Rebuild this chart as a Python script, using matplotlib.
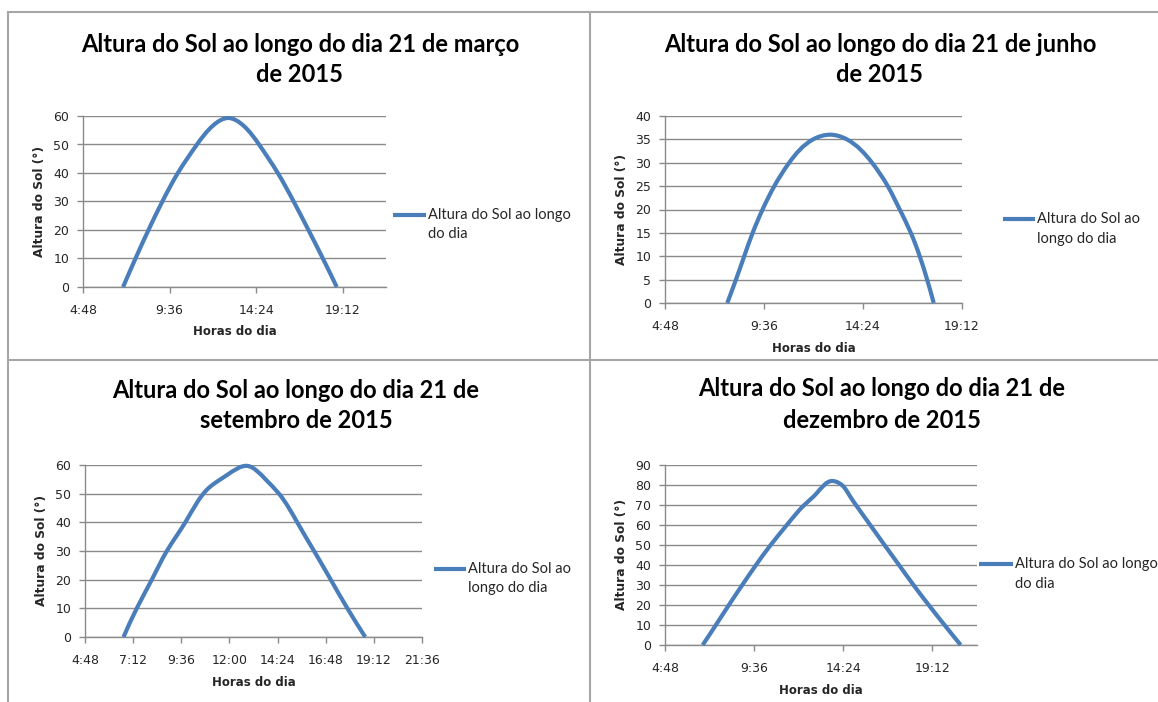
import matplotlib
matplotlib.use("Agg")
import matplotlib.pyplot as plt
from matplotlib.path import Path
from matplotlib.patches import PathPatch
from matplotlib.lines import Line2D
from matplotlib.ticker import FuncFormatter, FixedLocator
import numpy as np

# ---- data: sun altitude (degrees) against clock time (decimal hours) ----
horas_marco = [7.02, 7.71, 8.43, 9.20, 10.06, 11.12, 12.00, 12.85, 13.70, 14.56, 15.60, 16.48, 17.30, 18.10, 18.87]
altura_marco = [0, 10, 20, 30, 40, 50, 56.6, 59.3, 56.6, 50, 40, 30, 20, 10, 0]

horas_junho = [7.82, 8.24, 8.64, 9.05, 9.53, 10.10, 10.82, 11.98, 12.82, 13.62, 14.84, 15.60, 16.18, 16.72, 17.15, 17.51, 17.83]
altura_junho = [0, 5, 10, 15, 20, 25, 30, 35, 36, 35, 30, 25, 20, 15, 10, 5, 0]

horas_setembro = [6.72, 7.38, 8.13, 8.88, 9.80, 10.97, 11.88, 12.88, 13.80, 14.47, 15.38, 16.22, 17.05, 17.88, 18.77]
altura_setembro = [0, 10, 20, 30, 40, 52, 56.5, 59.7, 55, 50, 40, 30, 20, 10, 0]

horas_dezembro = [6.83, 7.54, 8.24, 8.96, 9.70, 10.49, 11.36, 12.30, 12.98, 13.78, 14.32, 14.72, 15.08, 15.85, 16.62, 17.40, 18.18, 19.00, 19.85, 20.72]
altura_dezembro = [0, 10, 20, 30, 40, 50, 60, 70, 76, 82, 80, 75, 70, 60, 50, 40, 30, 20, 10, 0]

titulos = [
    ("Altura do Sol ao longo do dia 21 de março", "de 2015"),
    ("Altura do Sol ao longo do dia 21 de junho", "de 2015"),
    ("Altura do Sol ao longo do dia 21 de", "setembro de 2015"),
    ("Altura do Sol ao longo do dia 21 de", "dezembro de 2015"),
]
legendas = [
    ("Altura do Sol ao longo", "do dia"),
    ("Altura do Sol ao", "longo do dia"),
    ("Altura do Sol ao", "longo do dia"),
    ("Altura do Sol ao longo", "do dia"),
]
x_label = "Horas do dia"
y_label = "Altura do Sol (°)"

# ---- styling ----
W, H = 1158, 702
LINE_COLOR = "#4a7ebb"
GRID_COLOR = "#8a8a8a"
FRAME_COLOR = "#a6a6a6"
TEXT_COLOR = "#262626"
TITLE_FONT = ["Lato", "DejaVu Sans"]
LEGEND_FONT = ["Lato", "DejaVu Sans"]

fig = plt.figure(figsize=(W / 100, H / 100), dpi=100)
fig.patch.set_facecolor("white")


def fx(px):
    return px / W


def fy(py):
    return 1 - py / H


def hhmm(v, _pos=None):
    m = int(round(v * 60))
    return f"{m // 60}:{m % 60:02d}"


def smooth_path(xs, ys, sx, sy):
    """Smoothed line through the points: a natural cubic spline with
    chord-length parameter (built in pixel units), written as Bezier segments."""
    P = np.column_stack([np.asarray(xs, float) * sx, np.asarray(ys, float) * sy])
    n = len(P)
    h = np.hypot(*(np.diff(P, axis=0).T))
    A = np.zeros((n, n))
    rhs = np.zeros((n, 2))
    A[0, 0] = A[-1, -1] = 1.0
    for i in range(1, n - 1):
        A[i, i - 1] = h[i - 1]
        A[i, i] = 2 * (h[i - 1] + h[i])
        A[i, i + 1] = h[i]
        rhs[i] = 6 * ((P[i + 1] - P[i]) / h[i] - (P[i] - P[i - 1]) / h[i - 1])
    M = np.linalg.solve(A, rhs)
    D = np.zeros_like(P)
    for i in range(n - 1):
        D[i] = (P[i + 1] - P[i]) / h[i] - h[i] * (2 * M[i] + M[i + 1]) / 6
    D[-1] = (P[-1] - P[-2]) / h[-1] + h[-1] * (M[-2] + 2 * M[-1]) / 6

    verts = [P[0]]
    codes = [Path.MOVETO]
    for i in range(n - 1):
        verts += [P[i] + D[i] * h[i] / 3, P[i + 1] - D[i + 1] * h[i] / 3, P[i + 1]]
        codes += [Path.CURVE4] * 3
    verts = np.array(verts) / np.array([sx, sy])
    return Path(verts, codes)


panels = [
    dict(box=(83, 116, 386, 287), x=horas_marco, y=altura_marco, ymax=60, ystep=10,
         xlim=(4.8, 21.6), xticks=[4.8, 9.6, 14.4, 19.2], title_c=(300, 45, 75),
         leg=(393, 426, 215, 234)),
    dict(box=(665, 116, 962, 303), x=horas_junho, y=altura_junho, ymax=40, ystep=5,
         xlim=(4.8, 19.2), xticks=[4.8, 9.6, 14.4, 19.2], title_c=(880, 45, 74),
         leg=(1003, 1035, 219, 239)),
    dict(box=(85, 465, 422, 637), x=horas_setembro, y=altura_setembro, ymax=60, ystep=10,
         xlim=(4.8, 21.6), xticks=[4.8, 7.2, 9.6, 12.0, 14.4, 16.8, 19.2, 21.6],
         title_c=(296, 390, 421), leg=(434, 466, 569, 588)),
    dict(box=(665, 465, 977, 645), x=horas_dezembro, y=altura_dezembro, ymax=90, ystep=10,
         xlim=(4.8, 21.6), xticks=[4.8, 9.6, 14.4, 19.2], title_c=(882, 389, 421),
         leg=(979, 1013, 564, 584)),
]

for p, titulo, legenda in zip(panels, titulos, legendas):
    l, t, r, b = p["box"]
    ax = fig.add_axes([fx(l), fy(b), fx(r) - fx(l), fy(t) - fy(b)])
    x0_, x1_ = p["xlim"]
    ax.set_xlim(x0_, x1_)
    ax.set_ylim(0, p["ymax"])
    ax.set_facecolor("none")

    for side in ("top", "right"):
        ax.spines[side].set_visible(False)
    for side in ("left", "bottom"):
        ax.spines[side].set_color(GRID_COLOR)
        ax.spines[side].set_linewidth(1.0)

    yt = np.arange(0, p["ymax"] + 0.1, p["ystep"])
    ax.yaxis.set_major_locator(FixedLocator(yt))
    ax.xaxis.set_major_locator(FixedLocator(p["xticks"]))
    ax.xaxis.set_major_formatter(FuncFormatter(hhmm))
    ax.grid(axis="y", color=GRID_COLOR, linewidth=1.0)
    ax.set_axisbelow(True)
    ax.tick_params(axis="both", colors=GRID_COLOR, labelcolor=TEXT_COLOR,
                   labelsize=9, length=4, width=1.0, direction="out")
    ax.tick_params(axis="y", pad=6)
    ax.tick_params(axis="x", pad=8)

    sx = (r - l) / (x1_ - x0_)
    sy = (b - t) / p["ymax"]
    ax.add_patch(PathPatch(smooth_path(p["x"], p["y"], sx, sy), fill=False,
                           edgecolor=LINE_COLOR, linewidth=3.0,
                           capstyle="butt", joinstyle="round", zorder=3,
                           clip_on=False))

    # axis titles
    fig.text(fx((l + r) / 2), fy(b + 45), x_label, ha="center", va="center",
             fontsize=8.5, fontweight="bold", color=TEXT_COLOR)
    fig.text(fx(l - 43), fy((t + b) / 2), y_label, ha="center", va="center",
             rotation=90, fontsize=8.8, fontweight="bold", color=TEXT_COLOR)

    # chart title (two lines)
    cx, y1, y2 = p["title_c"]
    for txt, yy in ((titulo[0], y1), (titulo[1], y2)):
        fig.text(fx(cx), fy(yy), txt, ha="center", va="center",
                 fontsize=17, fontweight="bold", family=TITLE_FONT, color="black")

    # legend entry
    lx0, lx1, ly1, ly2 = p["leg"]
    fig.add_artist(Line2D([fx(lx0), fx(lx1)], [fy(ly1), fy(ly1)],
                          transform=fig.transFigure, color=LINE_COLOR, linewidth=3.0,
                          solid_capstyle="butt"))
    fig.text(fx(lx1 + 2), fy(ly1), legenda[0], ha="left", va="center",
             fontsize=10.5, family=LEGEND_FONT, color=TEXT_COLOR)
    fig.text(fx(lx1 + 2), fy(ly2), legenda[1], ha="left", va="center",
             fontsize=10.5, family=LEGEND_FONT, color=TEXT_COLOR)

# frame lines separating the four charts
frame = dict(transform=fig.transFigure, color=FRAME_COLOR, linewidth=1.5)
fig.add_artist(Line2D([fx(8), fx(W)], [fy(12), fy(12)], **frame))
fig.add_artist(Line2D([fx(8), fx(8)], [fy(12), fy(H)], **frame))
fig.add_artist(Line2D([fx(590), fx(590)], [fy(12), fy(H)], **frame))
fig.add_artist(Line2D([fx(8), fx(W)], [fy(360), fy(360)], **frame))

fig.savefig("out.png", dpi=100, facecolor="white")
